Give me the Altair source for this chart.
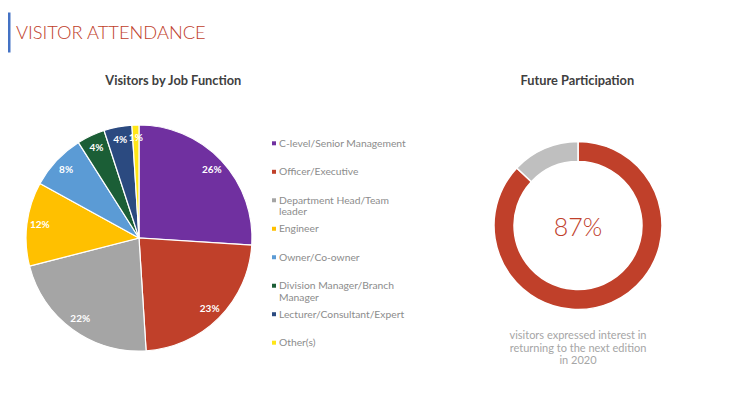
import altair as alt
import pandas as pd

# ---- data ----
job_functions = [
    "C-level/Senior Management",
    "Officer/Executive",
    "Department Head/Team leader",
    "Engineer",
    "Owner/Co-owner",
    "Division Manager/Branch Manager",
    "Lecturer/Consultant/Expert",
    "Other(s)",
]
legend_lines = [
    "C-level/Senior Management",
    "Officer/Executive",
    "Department Head/Team\nleader",
    "Engineer",
    "Owner/Co-owner",
    "Division Manager/Branch\nManager",
    "Lecturer/Consultant/Expert",
    "Other(s)",
]
job_shares = [26, 23, 22, 12, 8, 4, 4, 1]
job_colors = ["#7030A0", "#C0402A", "#A5A5A5", "#FFC000", "#5B9BD5", "#1B5E36", "#2B4A80", "#FFE617"]

participation_labels = ["Interested", "Not interested"]
participation_shares = [87, 13]
participation_colors = ["#C0402A", "#BFBFBF"]

FONT = "Lato"
RED = "#C0402A"

pie_df = pd.DataFrame({
    "idx": list(range(len(job_functions))),
    "job": job_functions,
    "legend": legend_lines,
    "share": job_shares,
})
pie_df["label"] = [f"{v}%" for v in job_shares]

donut_df = pd.DataFrame({
    "idx": list(range(len(participation_labels))),
    "answer": participation_labels,
    "share": participation_shares,
})

PCX, PCY, PR = 131, 230, 113
DCX, DCY = 570, 217.5

job_color = alt.Color("job:N", scale=alt.Scale(domain=job_functions, range=job_colors), legend=None)

pie = alt.Chart(pie_df).mark_arc(outerRadius=PR, stroke="white", strokeWidth=1.2).encode(
    theta=alt.Theta("share:Q", stack=True),
    color=job_color,
    order=alt.Order("idx:Q"),
    x=alt.value(PCX), y=alt.value(PCY),
)
pie_labels = alt.Chart(pie_df).mark_text(
    radius=100, font=FONT, fontSize=10, fontWeight="bold", color="white"
).encode(
    theta=alt.Theta("share:Q", stack=True),
    order=alt.Order("idx:Q"),
    text="label:N",
    x=alt.value(PCX), y=alt.value(PCY),
)

legend_y = alt.Y("idx:O", scale=alt.Scale(range=[135.3, 334.7], padding=0), axis=None)
legend_marks = alt.Chart(pie_df).mark_square(size=16, opacity=1).encode(
    x=alt.value(266),
    y=legend_y,
    color=job_color,
)
legend_text = alt.Chart(pie_df).mark_text(
    align="left", baseline="alphabetic", dy=3.5, font=FONT, fontSize=10.3,
    color="#8C8C8C", lineBreak="\n", lineHeight=11.5,
).encode(
    x=alt.value(271),
    y=legend_y,
    text="legend:N",
)

donut = alt.Chart(donut_df).mark_arc(outerRadius=84, innerRadius=64, stroke="white", strokeWidth=1.5).encode(
    theta=alt.Theta("share:Q", stack=True),
    color=alt.Color("answer:N", scale=alt.Scale(domain=participation_labels, range=participation_colors), legend=None),
    order=alt.Order("idx:Q"),
    x=alt.value(DCX), y=alt.value(DCY),
)
donut_text = alt.Chart(donut_df).transform_filter("datum.idx == 0").transform_calculate(
    pct="datum.share + '%'"
).mark_text(font=FONT, fontSize=25, fontWeight=300, color=RED, baseline="middle").encode(
    x=alt.value(DCX), y=alt.value(DCY + 2.5), text="pct:N"
)

annot = pd.DataFrame({"k": [0]})
base = alt.Chart(annot)
accent = base.mark_rect(color="#4472C4").encode(
    x=alt.value(-0.5), x2=alt.value(2.5), y=alt.value(4.5), y2=alt.value(44.5)
)
title = base.mark_text(
    text="VISITOR ATTENDANCE", align="left", baseline="alphabetic", font=FONT,
    fontSize=18.3, fontWeight=300, color=RED
).encode(x=alt.value(8), y=alt.value(31.3))
t1 = base.mark_text(
    text="Visitors by Job Function", font=FONT, fontSize=12.8, fontWeight="bold", color="#404040", baseline="middle"
).encode(x=alt.value(165.3), y=alt.value(73))
t2 = base.mark_text(
    text="Future Participation", font=FONT, fontSize=12.8, fontWeight="bold", color="#404040", baseline="middle"
).encode(x=alt.value(569.3), y=alt.value(72.7))
sub = base.mark_text(
    text="visitors expressed interest in\nreturning to the next edition\nin 2020", lineBreak="\n",
    font=FONT, fontSize=11, lineHeight=12.5, color="#A6A6A6", baseline="alphabetic", align="center"
).encode(x=alt.value(570), y=alt.value(331))

chart = alt.layer(
    accent, title, t1, t2, pie, pie_labels, legend_marks, legend_text, donut, donut_text, sub
).resolve_scale(
    color="independent", theta="independent", y="independent"
).properties(
    width=724, height=400, autosize=alt.AutoSizeParams(type="none"), padding=0,
).configure_view(stroke=None)

chart.save("out.html", embed_options={"renderer": "svg", "actions": False})
